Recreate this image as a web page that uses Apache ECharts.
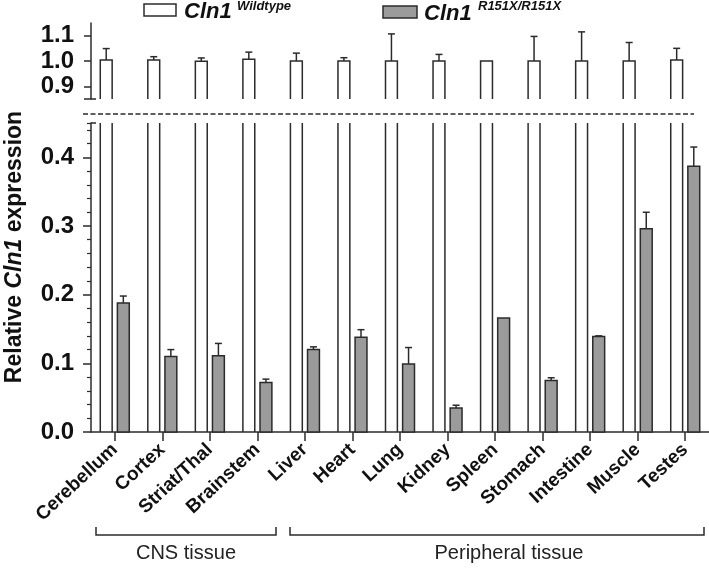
<!DOCTYPE html>
<html>
<head>
<meta charset="utf-8">
<script src="https://cdn.jsdelivr.net/npm/echarts@6/dist/echarts.min.js"></script>
<style>html,body{margin:0;padding:0;background:#fff}#c{width:709px;height:568px}</style>
</head>
<body>
<div id="c"></div>
<script>
var categories = ['Cerebellum','Cortex','Striat/Thal','Brainstem','Liver','Heart','Lung','Kidney','Spleen','Stomach','Intestine','Muscle','Testes'];
var wildtypeValues = [1.004,1.004,0.999,1.007,1.000,1.000,1.000,1.000,1.000,1.000,1.000,1.000,1.004];
var wildtypeErrors = [0.045,0.013,0.013,0.028,0.031,0.013,0.107,0.026,0.000,0.097,0.115,0.073,0.046];
var mutantValues = [0.188,0.110,0.111,0.072,0.120,0.138,0.099,0.035,0.166,0.075,0.139,0.296,0.387];
var mutantErrors = [0.010,0.010,0.018,0.005,0.004,0.011,0.024,0.004,0.000,0.004,0.001,0.024,0.028];
var upperTicks = [0.9, 1.0, 1.1];
var lowerTicks = [0, 0.1, 0.2, 0.3, 0.4];
var lowerMinorTicks = [0.02,0.04,0.06,0.08,0.12,0.14,0.16,0.18,0.22,0.24,0.26,0.28,0.32,0.34,0.36,0.38,0.42,0.44,0.45];
var UPPER_MIN = 0.85, UPPER_MAX = 1.15, LOWER_MIN = 0, LOWER_MAX = 0.45;

var INK = '#2b2b2b', GRAY = '#9b9b9b';
var wtData = categories.map(function (c, i) { return [i, wildtypeValues[i], wildtypeErrors[i]]; });
var mtData = categories.map(function (c, i) { return [i, mutantValues[i], mutantErrors[i]]; });

function errorBar(api, cx, v, e) {
  var a = api.coord([0, v])[1], t = api.coord([0, v + e])[1];
  return [
    {type: 'line', shape: {x1: cx, y1: a, x2: cx, y2: t}, style: {stroke: INK, lineWidth: 1.5}},
    {type: 'line', shape: {x1: cx - 3.5, y1: t, x2: cx + 3.5, y2: t}, style: {stroke: INK, lineWidth: 1.5}}
  ];
}
function wtUpper(params, api) {
  var i = api.value(0), v = api.value(1), e = api.value(2);
  var band = api.size([1, 0])[0];
  var top = api.coord([i, v]), bot = api.coord([i, UPPER_MIN]);
  var w = band * 0.25, cx = top[0] - band * 0.18, x0 = cx - w / 2, x1 = cx + w / 2;
  var ch = [
    {type: 'rect', shape: {x: x0, y: top[1], width: w, height: bot[1] - top[1]}, style: {fill: '#fff'}},
    {type: 'polyline', shape: {points: [[x0, bot[1]], [x0, top[1]], [x1, top[1]], [x1, bot[1]]]}, style: {stroke: INK, lineWidth: 1.5, fill: null}}
  ];
  if (e > 0) ch = ch.concat(errorBar(api, cx, v, e));
  return {type: 'group', children: ch};
}
function wtLower(params, api) {
  var i = api.value(0), v = Math.min(api.value(1), LOWER_MAX);
  var band = api.size([1, 0])[0];
  var top = api.coord([i, v]), bot = api.coord([i, LOWER_MIN]);
  var w = band * 0.25, cx = top[0] - band * 0.18, x0 = cx - w / 2, x1 = cx + w / 2;
  return {type: 'group', children: [
    {type: 'line', shape: {x1: x0, y1: bot[1], x2: x0, y2: top[1]}, style: {stroke: INK, lineWidth: 1.5}},
    {type: 'line', shape: {x1: x1, y1: bot[1], x2: x1, y2: top[1]}, style: {stroke: INK, lineWidth: 1.5}}
  ]};
}
function mtLower(params, api) {
  var i = api.value(0), v = api.value(1), e = api.value(2);
  var band = api.size([1, 0])[0];
  var top = api.coord([i, v]), bot = api.coord([i, LOWER_MIN]);
  var w = band * 0.25, cx = top[0] + band * 0.18;
  var ch = [{type: 'rect', shape: {x: cx - w / 2, y: top[1], width: w, height: bot[1] - top[1]}, style: {fill: GRAY, stroke: INK, lineWidth: 1.5}}];
  if (e > 0) ch = ch.concat(errorBar(api, cx, v, e));
  return {type: 'group', children: ch};
}

var axisLine = {show: true, lineStyle: {color: INK, width: 1.5}};
var labelStyle = {color: '#111', fontFamily: 'Liberation Sans', fontWeight: 'bold', fontSize: 24, margin: 17,
  formatter: function (v) { return (+v).toFixed(1); }};

var chart = echarts.init(document.getElementById('c'), null, {renderer: 'canvas'});
chart.setOption({
  animation: false,
  backgroundColor: '#fff',
  grid: [
    {left: 91, right: -2, top: 23, bottom: 469},
    {left: 91, right: -2, top: 123, bottom: 136}
  ],
  xAxis: [
    {type: 'category', gridIndex: 0, data: categories, show: false},
    {type: 'category', gridIndex: 1, data: categories,
      axisLine: axisLine,
      axisTick: {show: true, alignWithLabel: true, length: 9, lineStyle: {color: INK, width: 1.5}},
      axisLabel: {interval: 0, rotate: 43, color: '#111', fontFamily: 'Liberation Sans', fontWeight: 'bold', fontSize: 19, margin: 15}}
  ],
  yAxis: [
    {type: 'value', gridIndex: 0, position: 'left', min: UPPER_MIN, max: UPPER_MAX, splitLine: {show: false}, axisLine: axisLine,
      axisTick: {show: true, length: 7, customValues: upperTicks.concat([UPPER_MIN]), lineStyle: {color: INK, width: 1.5}},
      axisLabel: Object.assign({customValues: upperTicks}, labelStyle)},
    {type: 'value', gridIndex: 0, position: 'left', min: UPPER_MIN, max: UPPER_MAX, splitLine: {show: false}, axisLine: {show: false},
      axisLabel: {show: false},
      axisTick: {show: true, inside: true, length: 5, customValues: [UPPER_MIN], lineStyle: {color: INK, width: 1.5}}},
    {type: 'value', gridIndex: 1, position: 'left', min: LOWER_MIN, max: LOWER_MAX, splitLine: {show: false}, axisLine: axisLine,
      axisTick: {show: true, length: 8, customValues: lowerTicks, lineStyle: {color: INK, width: 1.5}},
      axisLabel: Object.assign({customValues: lowerTicks}, labelStyle)},
    {type: 'value', gridIndex: 1, position: 'left', min: LOWER_MIN, max: LOWER_MAX, splitLine: {show: false}, axisLine: {show: false},
      axisLabel: {show: false},
      axisTick: {show: true, length: 4, customValues: lowerMinorTicks, lineStyle: {color: INK, width: 1.2}}},
    {type: 'value', gridIndex: 1, position: 'left', min: LOWER_MIN, max: LOWER_MAX, splitLine: {show: false}, axisLine: {show: false},
      axisLabel: {show: false},
      axisTick: {show: true, inside: true, length: 5, customValues: [LOWER_MAX], lineStyle: {color: INK, width: 1.5}}}
  ],
  series: [
    {type: 'custom', name: 'wt-upper', xAxisIndex: 0, yAxisIndex: 0, data: wtData, renderItem: wtUpper, encode: {x: 0, y: 1}, clip: false},
    {type: 'custom', name: 'wt-lower', xAxisIndex: 1, yAxisIndex: 2, data: wtData, renderItem: wtLower, encode: {x: 0, y: 1}, clip: false},
    {type: 'custom', name: 'mt-lower', xAxisIndex: 1, yAxisIndex: 2, data: mtData, renderItem: mtLower, encode: {x: 0, y: 1}, clip: false}
  ],
  graphic: [
    {type: 'line', shape: {x1: 83, y1: 114, x2: 694, y2: 114}, style: {stroke: INK, lineWidth: 1.5, lineDash: [5, 2.5]}},
    {type: 'rect', shape: {x: 144, y: 4, width: 32, height: 12}, style: {fill: '#fff', stroke: INK, lineWidth: 1.5}},
    {type: 'text', x: 184, y: 1, style: {text: 'Cln1', fill: '#111', font: 'italic bold 22px "Liberation Sans"', verticalAlign: 'top'}},
    {type: 'text', x: 237, y: 0, style: {text: 'Wildtype', fill: '#111', font: 'italic bold 13px "Liberation Sans"', verticalAlign: 'top'}},
    {type: 'rect', shape: {x: 383, y: 6, width: 34, height: 12}, style: {fill: GRAY, stroke: INK, lineWidth: 1.5}},
    {type: 'text', x: 424, y: 3, style: {text: 'Cln1', fill: '#111', font: 'italic bold 22px "Liberation Sans"', verticalAlign: 'top'}},
    {type: 'text', x: 478, y: 0, style: {text: 'R151X/R151X', fill: '#111', font: 'italic bold 13px "Liberation Sans"', verticalAlign: 'top'}},
    {type: 'text', x: 15, y: 247, rotation: Math.PI / 2,
      style: {text: '{r|Relative }{i|Cln1}{r| expression}', align: 'center', verticalAlign: 'middle',
        rich: {r: {fontFamily: 'Liberation Sans', fontWeight: 'bold', fontSize: 23, fill: '#111'},
               i: {fontFamily: 'Liberation Sans', fontWeight: 'bold', fontStyle: 'italic', fontSize: 23, fill: '#111'}}}},
    {type: 'polyline', shape: {points: [[96, 527], [96, 535], [276, 535], [276, 527]]}, style: {stroke: INK, lineWidth: 1.5, fill: null}},
    {type: 'polyline', shape: {points: [[290, 527], [290, 535], [704, 535], [704, 527]]}, style: {stroke: INK, lineWidth: 1.5, fill: null}},
    {type: 'text', x: 186, y: 553, style: {text: 'CNS tissue', fill: '#222', font: '20px "Liberation Sans"', align: 'center', verticalAlign: 'middle'}},
    {type: 'text', x: 509, y: 553, style: {text: 'Peripheral tissue', fill: '#222', font: '20px "Liberation Sans"', align: 'center', verticalAlign: 'middle'}}
  ]
});
</script>
</body>
</html>
